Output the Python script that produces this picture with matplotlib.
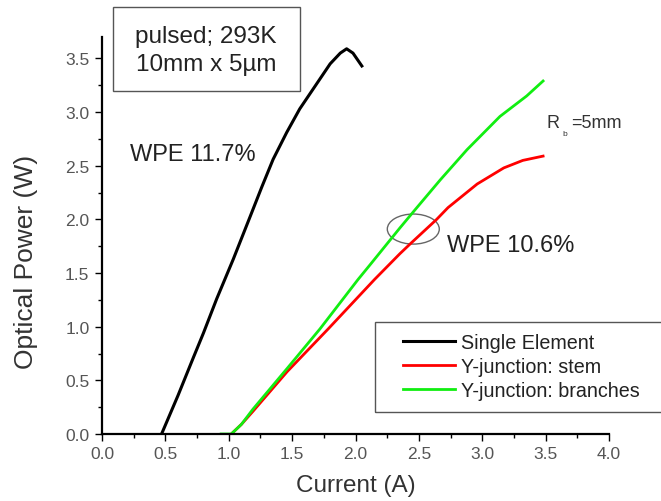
import matplotlib.pyplot as plt
import matplotlib.patches as patches
from matplotlib.ticker import MultipleLocator

plt.rcParams['font.family'] = ['Liberation Sans', 'DejaVu Sans']

# Data (current in A, optical power in W)
single_I = [0.47, 0.60, 0.72, 0.80, 0.905, 1.036, 1.17, 1.26, 1.35, 1.457, 1.56,
            1.68, 1.80, 1.88, 1.93, 1.98, 2.05]
single_P = [0.00, 0.36, 0.71, 0.94, 1.26, 1.63, 2.03, 2.30, 2.56, 2.81, 3.03,
            3.24, 3.45, 3.55, 3.59, 3.55, 3.43]

stem_I = [1.02, 1.10, 1.19, 1.46, 1.785, 2.15, 2.35, 2.43, 2.64, 2.73, 2.96,
          3.17, 3.32, 3.48]
stem_P = [0.00, 0.09, 0.21, 0.58, 0.98, 1.44, 1.68, 1.77, 2.00, 2.11, 2.33,
          2.48, 2.55, 2.59]

branch_I = [0.94, 1.02, 1.10, 1.19, 1.46, 1.72, 2.02, 2.11, 2.35, 2.47, 2.67,
            2.88, 3.14, 3.35, 3.48]
branch_P = [0.00, 0.00, 0.09, 0.23, 0.61, 0.98, 1.44, 1.57, 1.92, 2.09, 2.37,
            2.65, 2.96, 3.15, 3.29]

labels = ['Single Element', 'Y-junction: stem', 'Y-junction: branches']

W, H = 661, 502
fig = plt.figure(figsize=(W / 100, H / 100), dpi=100)
ax = fig.add_axes([102 / W, 1 - 435 / H, 507 / W, 397 / H])

ax.plot(single_I, single_P, color='black', lw=2.2, label=labels[0])
ax.plot(stem_I, stem_P, color='#ff0000', lw=2.0, label=labels[1])
ax.plot(branch_I, branch_P, color='#11ee11', lw=2.0, label=labels[2])

ax.set_xlim(0, 4.0)
ax.set_ylim(0, 3.7)
ax.xaxis.set_major_locator(MultipleLocator(0.5))
ax.xaxis.set_minor_locator(MultipleLocator(0.25))
ax.yaxis.set_minor_locator(MultipleLocator(0.25))
ax.set_yticks([0, 0.5, 1.0, 1.5, 2.0, 2.5, 3.0, 3.5])
ax.yaxis.set_major_formatter(plt.FormatStrFormatter('%.1f'))
ax.xaxis.set_major_formatter(plt.FormatStrFormatter('%.1f'))

for s in ['top', 'right']:
    ax.spines[s].set_visible(False)
for s in ['left', 'bottom']:
    ax.spines[s].set_linewidth(1.6)
ax.tick_params(which='major', direction='out', length=5, width=1.0,
               labelsize=12.5, labelcolor='#555555', pad=4)
ax.tick_params(which='minor', direction='out', length=3, width=1.0)

ax.set_xlabel('Current (A)', fontsize=17.5, color='#333333', labelpad=9)
ax.set_ylabel('Optical Power (W)', fontsize=19, color='#333333')
ax.yaxis.set_label_coords(-0.126, 0.436)

# annotations
ax.text(0.22, 2.61, 'WPE 11.7%', fontsize=17, color='#222222', va='center')
ax.text(2.72, 1.76, 'WPE 10.6%', fontsize=17, color='#222222', va='center')
ax.add_patch(patches.Ellipse((2.456, 1.91), 0.41, 0.28, fill=False,
                             edgecolor='#666666', lw=1.0))
ax.text(3.51, 2.90, 'R', fontsize=13, color='#333333', va='center')
ax.text(3.63, 2.80, 'b', fontsize=6, color='#333333', va='center')
ax.text(3.70, 2.90, '=5mm', fontsize=13, color='#333333', va='center')

# condition box
fig.add_artist(patches.Rectangle((113 / W, 1 - 92 / H), 187 / W, 84 / H,
                                 transform=fig.transFigure, fill=False,
                                 edgecolor='#555555', lw=1.0))
fig.text(206 / W, 1 - 51 / H, 'pulsed; 293K\n10mm x 5µm', fontsize=17.5,
         color='#222222', ha='center', va='center', linespacing=1.4)

# legend
fig.add_artist(patches.Rectangle((375 / W, 1 - 413 / H), 300 / W, 90 / H,
                                 transform=fig.transFigure, fill=False,
                                 edgecolor='#555555', lw=1.0))
leg = ax.legend(loc='upper left', bbox_to_anchor=(403 / W, 1 - 334 / H),
                bbox_transform=fig.transFigure, frameon=False, fontsize=14.2,
                borderpad=0, borderaxespad=0, handlelength=2.65,
                handletextpad=0.3, labelspacing=0.25)
for t in leg.get_texts():
    t.set_color('#222222')

fig.savefig('out.png', dpi=100)
